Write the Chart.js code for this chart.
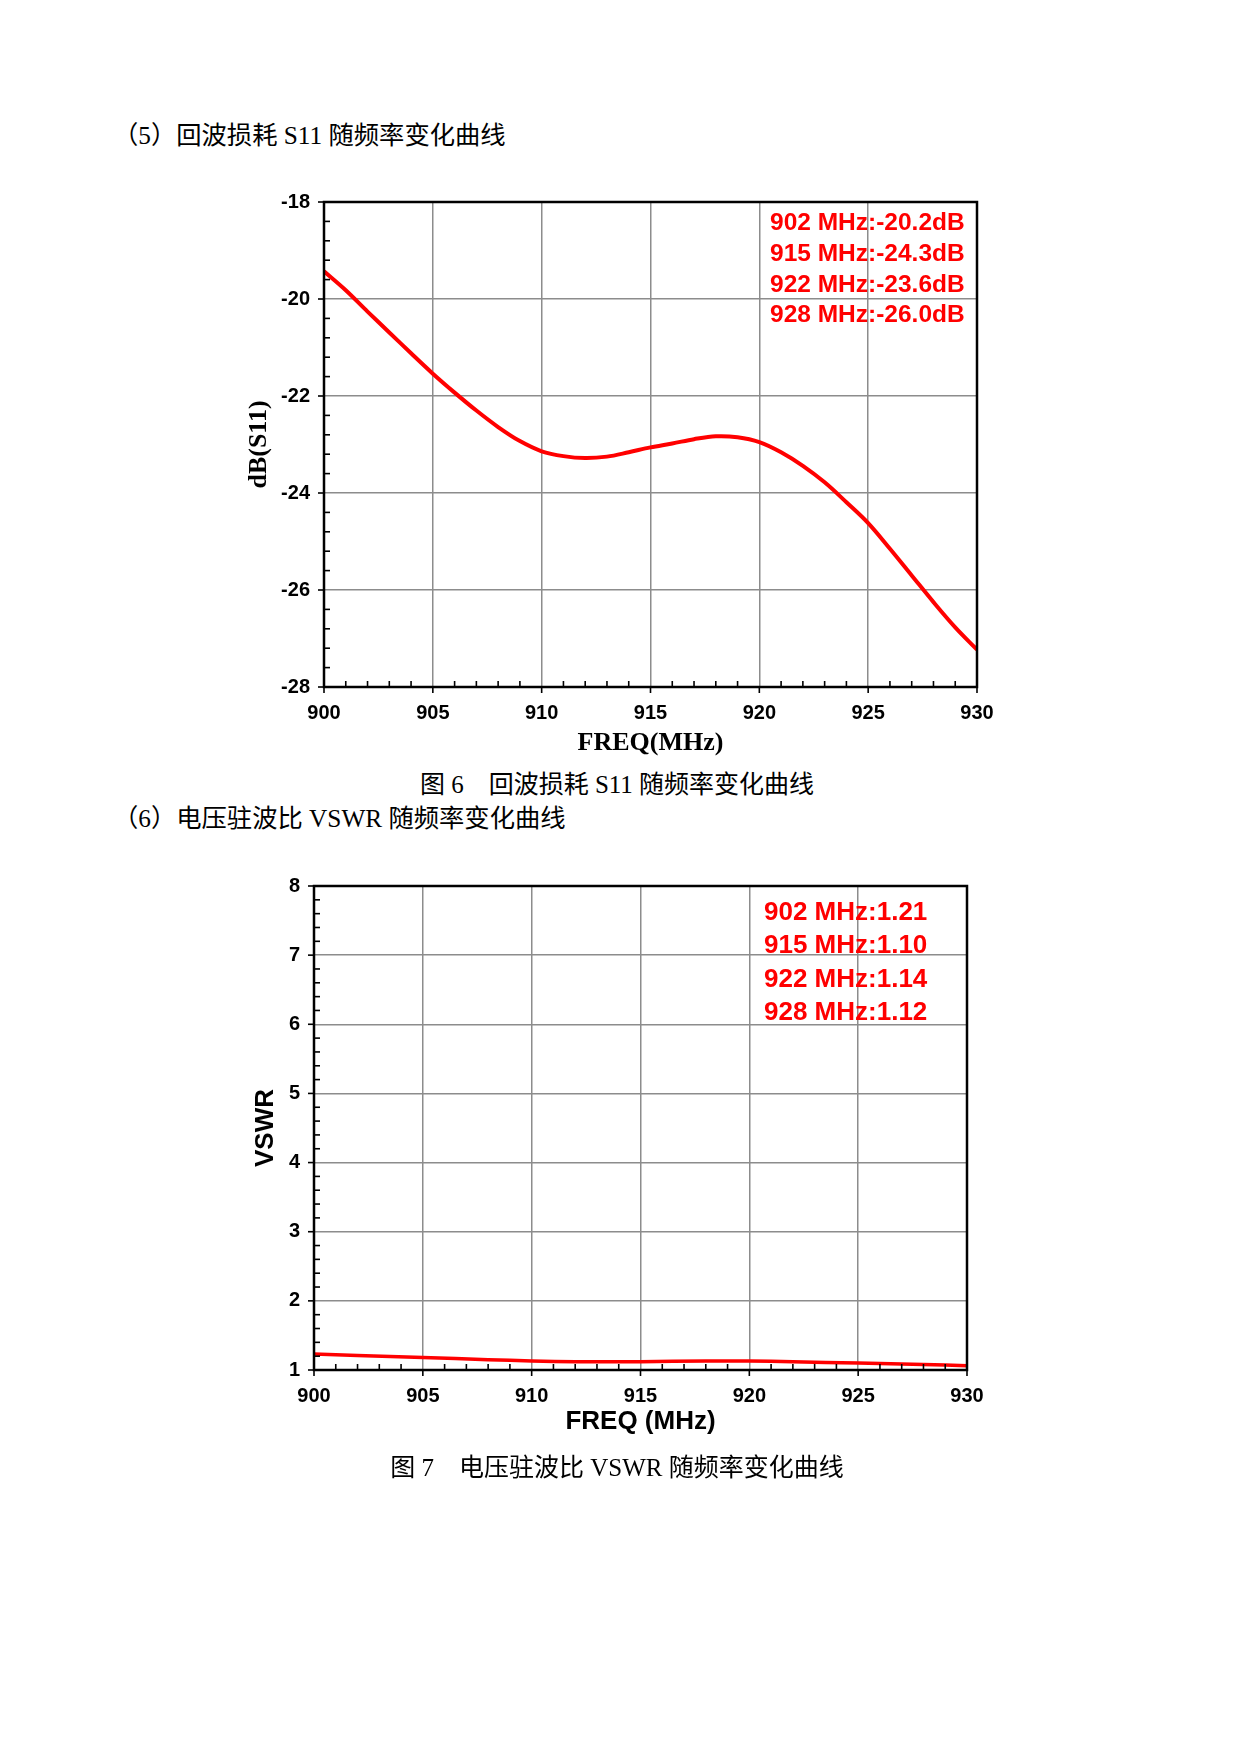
<!DOCTYPE html>
<html lang="zh-CN">
<head>
<meta charset="UTF-8">
<title>S11 / VSWR</title>
<style>
    body {
        margin: 0;
        width: 1240px;
        height: 1754px;
        background: #fff;
        position: relative;
        font-family: "Liberation Serif", "Noto Sans CJK SC", serif;
        color: #000;
    }
    .text {
        position: absolute;
        font-size: 25.3px;
        line-height: 30px;
        white-space: nowrap;
    }
    .caption {
        position: absolute;
        left: 0;
        width: 1234px;
        text-align: center;
        font-size: 25px;
        line-height: 30px;
        white-space: nowrap;
    }
    .box {
        position: absolute;
    }
    .marks {
        position: absolute;
        color: #ff0000;
        font-family: "Liberation Sans", Arial, sans-serif;
        font-weight: bold;
        white-space: nowrap;
    }
</style>
</head>
<body>
    <div class="text" style="left:113px; top:120px;">（5）回波损耗 S11 随频率变化曲线</div>

    <div class="box" style="left:200px; top:170px;">
        <canvas id="s11-chart" width="820" height="600"></canvas>
    </div>
    <div class="marks" style="left:770px; top:207px; font-size:24.5px; line-height:30.8px;">
        902 MHz:-20.2dB<br>915 MHz:-24.3dB<br>922 MHz:-23.6dB<br>928 MHz:-26.0dB
    </div>

    <div class="caption" style="top:770px;">图 6　回波损耗 S11 随频率变化曲线</div>
    <div class="text" style="left:113px; top:803px;">（6）电压驻波比 VSWR 随频率变化曲线</div>

    <div class="box" style="left:190px; top:860px;">
        <canvas id="vswr-chart" width="820" height="600"></canvas>
    </div>
    <div class="marks" style="left:764px; top:895px; font-size:26px; line-height:33.3px;">
        902 MHz:1.21<br>915 MHz:1.10<br>922 MHz:1.14<br>928 MHz:1.12
    </div>

    <div class="caption" style="top:1453px;">图 7　电压驻波比 VSWR 随频率变化曲线</div>

    <script src="https://cdn.jsdelivr.net/npm/chart.js"></script>
    <script>
        // S11 curve, every 1 MHz
        const s11Freq = [900, 901, 902, 903, 904, 905, 906, 907, 908, 909, 910,
                         911, 912, 913, 914, 915, 916, 917, 918, 919, 920,
                         921, 922, 923, 924, 925, 926, 927, 928, 929, 930];
        const s11Db = [-19.43, -19.82, -20.26, -20.69, -21.12, -21.54, -21.93, -22.30, -22.64, -22.93, -23.14,
                       -23.24, -23.28, -23.25, -23.16, -23.06, -22.98, -22.89, -22.83, -22.85, -22.95,
                       -23.16, -23.44, -23.78, -24.19, -24.62, -25.15, -25.70, -26.25, -26.77, -27.23];

        // VSWR curve
        const vswrFreq = [900, 902, 905, 908, 910, 912, 915, 918, 920, 922, 925, 928, 930];
        const vswrVal = [1.23, 1.21, 1.18, 1.15, 1.13, 1.12, 1.12, 1.13, 1.13, 1.12, 1.10, 1.08, 1.06];

        const xTicks = [900, 905, 910, 915, 920, 925, 930];
        const s11Ticks = [-28, -26, -24, -22, -20, -18];
        const vswrTicks = [1, 2, 3, 4, 5, 6, 7, 8];

        const tickFont = { family: '"Liberation Sans", Arial, sans-serif', size: 20, weight: 'bold' };
        const gridGray = '#8c8c8c';

        function isMajor(v, step) {
            return Math.abs(v / step - Math.round(v / step)) < 1e-6;
        }

        // black frame round the plot, major ticks outside, minor ticks inside
        const framePlugin = {
            id: 'frame',
            afterDatasetsDraw(chart, args, opts) {
                const ctx = chart.ctx;
                const a = chart.chartArea;
                const sx = chart.scales.x;
                const sy = chart.scales.y;
                ctx.save();
                ctx.strokeStyle = '#000';
                ctx.lineWidth = 1.6;
                sx.ticks.forEach(t => {
                    const px = sx.getPixelForValue(t.value);
                    ctx.beginPath();
                    if (isMajor(t.value, opts.xMajor)) {
                        ctx.moveTo(px, a.bottom);
                        ctx.lineTo(px, a.bottom + 6);
                    } else {
                        ctx.moveTo(px, a.bottom);
                        ctx.lineTo(px, a.bottom - 6);
                    }
                    ctx.stroke();
                });
                sy.ticks.forEach(t => {
                    const py = sy.getPixelForValue(t.value);
                    ctx.beginPath();
                    if (isMajor(t.value, opts.yMajor)) {
                        ctx.moveTo(a.left, py);
                        ctx.lineTo(a.left - 6, py);
                    } else {
                        ctx.moveTo(a.left, py);
                        ctx.lineTo(a.left + 6, py);
                    }
                    ctx.stroke();
                });
                ctx.lineWidth = 2.5;
                ctx.strokeRect(a.left, a.top, a.right - a.left, a.bottom - a.top);
                ctx.restore();
            }
        };

        function makeChart(id, cfg) {
            return new Chart(document.getElementById(id), {
                type: 'line',
                data: {
                    datasets: [{
                        data: cfg.xs.map((x, i) => ({ x: x, y: cfg.ys[i] })),
                        borderColor: '#ff0000',
                        borderWidth: cfg.lineWidth,
                        pointRadius: 0,
                        tension: 0.35,
                        fill: false
                    }]
                },
                options: {
                    responsive: false,
                    animation: false,
                    layout: { padding: { top: cfg.padTop, right: 43, left: 0, bottom: 0 } },
                    plugins: {
                        legend: { display: false },
                        tooltip: { enabled: false },
                        frame: { xMajor: 5, yMajor: cfg.yMajor }
                    },
                    scales: {
                        x: {
                            type: 'linear',
                            min: xTicks[0],
                            max: xTicks[xTicks.length - 1],
                            ticks: {
                                stepSize: 1,
                                autoSkip: false,
                                maxRotation: 0,
                                padding: 14,
                                color: '#000',
                                font: tickFont,
                                callback: v => xTicks.includes(Math.round(v)) && isMajor(v, 5) ? String(Math.round(v)) : ''
                            },
                            grid: {
                                drawTicks: false,
                                lineWidth: 1.5,
                                color: c => (c.tick && isMajor(c.tick.value, 5)) ? gridGray : 'rgba(0,0,0,0)'
                            },
                            border: { display: false },
                            title: {
                                display: true,
                                text: cfg.xTitle,
                                color: '#000',
                                font: cfg.xTitleFont,
                                padding: { top: 0, bottom: cfg.xTitlePad }
                            },
                            afterFit: s => { s.height = cfg.xHeight; }
                        },
                        y: {
                            min: cfg.yTicks[0],
                            max: cfg.yTicks[cfg.yTicks.length - 1],
                            ticks: {
                                stepSize: cfg.yMinor,
                                autoSkip: false,
                                padding: 14,
                                color: '#000',
                                font: tickFont,
                                callback: v => isMajor(v, cfg.yMajor) ? String(Math.round(v)) : ''
                            },
                            grid: {
                                drawTicks: false,
                                lineWidth: 1.5,
                                color: c => (c.tick && isMajor(c.tick.value, cfg.yMajor)) ? gridGray : 'rgba(0,0,0,0)'
                            },
                            border: { display: false },
                            title: {
                                display: true,
                                text: cfg.yTitle,
                                color: '#000',
                                font: cfg.yTitleFont,
                                padding: { top: cfg.yTitlePad, bottom: 0 }
                            },
                            afterFit: s => { s.width = 124; }
                        }
                    }
                },
                plugins: [framePlugin]
            });
        }

        makeChart('s11-chart', {
            xs: s11Freq, ys: s11Db,
            yTicks: s11Ticks, yMajor: 2, yMinor: 0.4,
            lineWidth: 4,
            padTop: 32, xHeight: 83,
            xTitle: 'FREQ(MHz)',
            xTitleFont: { family: '"Liberation Serif", serif', size: 26, weight: 'bold' },
            xTitlePad: 11,
            yTitle: 'dB(S11)',
            yTitleFont: { family: '"Liberation Serif", serif', size: 26, weight: 'bold' },
            yTitlePad: 44
        });

        makeChart('vswr-chart', {
            xs: vswrFreq, ys: vswrVal,
            yTicks: vswrTicks, yMajor: 1, yMinor: 0.2,
            lineWidth: 3.5,
            padTop: 25, xHeight: 90,
            xTitle: 'FREQ (MHz)',
            xTitleFont: { family: '"Liberation Sans", Arial, sans-serif', size: 26, weight: 'bold' },
            xTitlePad: 23,
            yTitle: 'VSWR',
            yTitleFont: { family: '"Liberation Sans", Arial, sans-serif', size: 26, weight: 'bold' },
            yTitlePad: 60
        });
    </script>
</body>
</html>
